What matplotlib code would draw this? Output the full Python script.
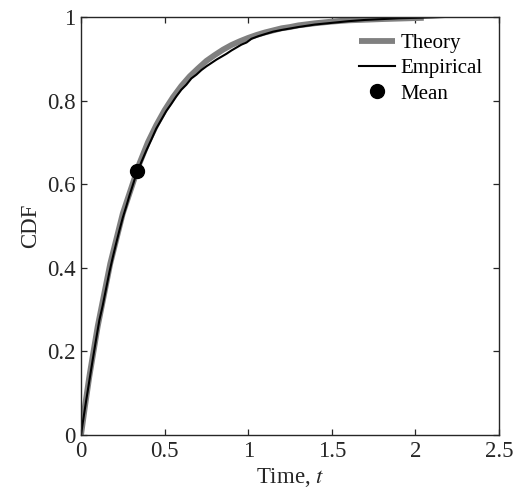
import matplotlib
matplotlib.use("Agg")
import matplotlib.pyplot as plt

plt.rcParams['font.family'] = ['Liberation Serif', 'DejaVu Serif']
plt.rcParams['mathtext.fontset'] = 'stix'

theory_t = [0, 0.025, 0.05, 0.075, 0.1, 0.125, 0.15, 0.175, 0.2, 0.225, 0.25,
            0.275, 0.3, 0.325, 0.35, 0.375, 0.4, 0.45, 0.5, 0.55, 0.6, 0.65,
            0.7, 0.75, 0.8, 0.85, 0.9, 0.95, 1.0, 1.05, 1.1, 1.15, 1.2, 1.25,
            1.3, 1.4, 1.5, 1.6, 1.8, 2.05]
theory_cdf = [0, 0.072, 0.14, 0.20, 0.26, 0.31, 0.36, 0.41, 0.45, 0.49, 0.53,
              0.56, 0.59, 0.62, 0.65, 0.675, 0.70, 0.741, 0.777, 0.808, 0.835,
              0.858, 0.877, 0.895, 0.909, 0.922, 0.933, 0.942, 0.950, 0.957,
              0.963, 0.968, 0.973, 0.976, 0.980, 0.985, 0.989, 0.992, 0.995,
              0.998]

emp_t = [0, 0.01, 0.03, 0.05, 0.07, 0.09, 0.11, 0.13, 0.15, 0.17, 0.19, 0.21,
         0.23, 0.25, 0.27, 0.29, 0.31, 0.33, 0.36, 0.39, 0.42, 0.45, 0.48, 0.51,
         0.54, 0.57, 0.60, 0.63, 0.66, 0.69, 0.72, 0.75, 0.78, 0.81, 0.84, 0.87,
         0.90, 0.93, 0.96, 0.99, 1.02, 1.06, 1.10, 1.15, 1.2, 1.3, 1.4, 1.5,
         1.6, 1.7, 1.8, 1.9, 2.0, 2.1, 2.17]
emp_cdf = [0, 0.028, 0.080, 0.130, 0.180, 0.228, 0.275, 0.31, 0.35, 0.39, 0.425,
           0.458, 0.49, 0.52, 0.546, 0.573, 0.598, 0.623, 0.652, 0.68, 0.706,
           0.733, 0.754, 0.775, 0.792, 0.81, 0.826, 0.838, 0.853, 0.862, 0.873,
           0.882, 0.89, 0.898, 0.905, 0.912, 0.92, 0.927, 0.934, 0.939,
           0.948, 0.954, 0.959, 0.965, 0.969, 0.976, 0.982, 0.986, 0.990, 0.993,
           0.995, 0.997, 0.998, 0.999, 1.0]

mean_t = [1/3]
mean_cdf = [0.632]

xticks = [0, 0.5, 1, 1.5, 2, 2.5]
xticklabels = ['0', '0.5', '1', '1.5', '2', '2.5']
yticks = [0, 0.2, 0.4, 0.6, 0.8, 1]
yticklabels = ['0', '0.2', '0.4', '0.6', '0.8', '1']

fig = plt.figure(figsize=(5.14, 4.95), dpi=100)
ax = fig.add_axes([81/514, 60/495, 418/514, 418/495])

ax.plot(theory_t, theory_cdf, color='#808080', lw=4.2, label='Theory', solid_capstyle='butt')
ax.plot(emp_t, emp_cdf, color='black', lw=1.5, label='Empirical')
ax.plot(mean_t, mean_cdf, 'o', color='black', ms=10, label='Mean', linestyle='none')

ax.set_xlim(0, 2.5)
ax.set_ylim(0, 1)
ax.set_xticks(xticks)
ax.set_xticklabels(xticklabels)
ax.set_yticks(yticks)
ax.set_yticklabels(yticklabels)
ax.tick_params(direction='in', top=True, right=True, length=4, width=0.9,
               labelsize=16.5, colors='#262626', pad=4)
for s in ax.spines.values():
    s.set_linewidth(1.0)
    s.set_color('#262626')

ax.set_xlabel('Time, $t$', fontsize=16.5, color='#262626', labelpad=3)
ax.set_ylabel('CDF', fontsize=16.5, color='#262626', labelpad=4)

leg = ax.legend(loc='upper right', frameon=False, fontsize=15, handlelength=1.75,
                handletextpad=0.25, labelspacing=0.27, borderaxespad=0.3,
                bbox_to_anchor=(0.995, 0.995))

fig.savefig('out.png', dpi=100)
